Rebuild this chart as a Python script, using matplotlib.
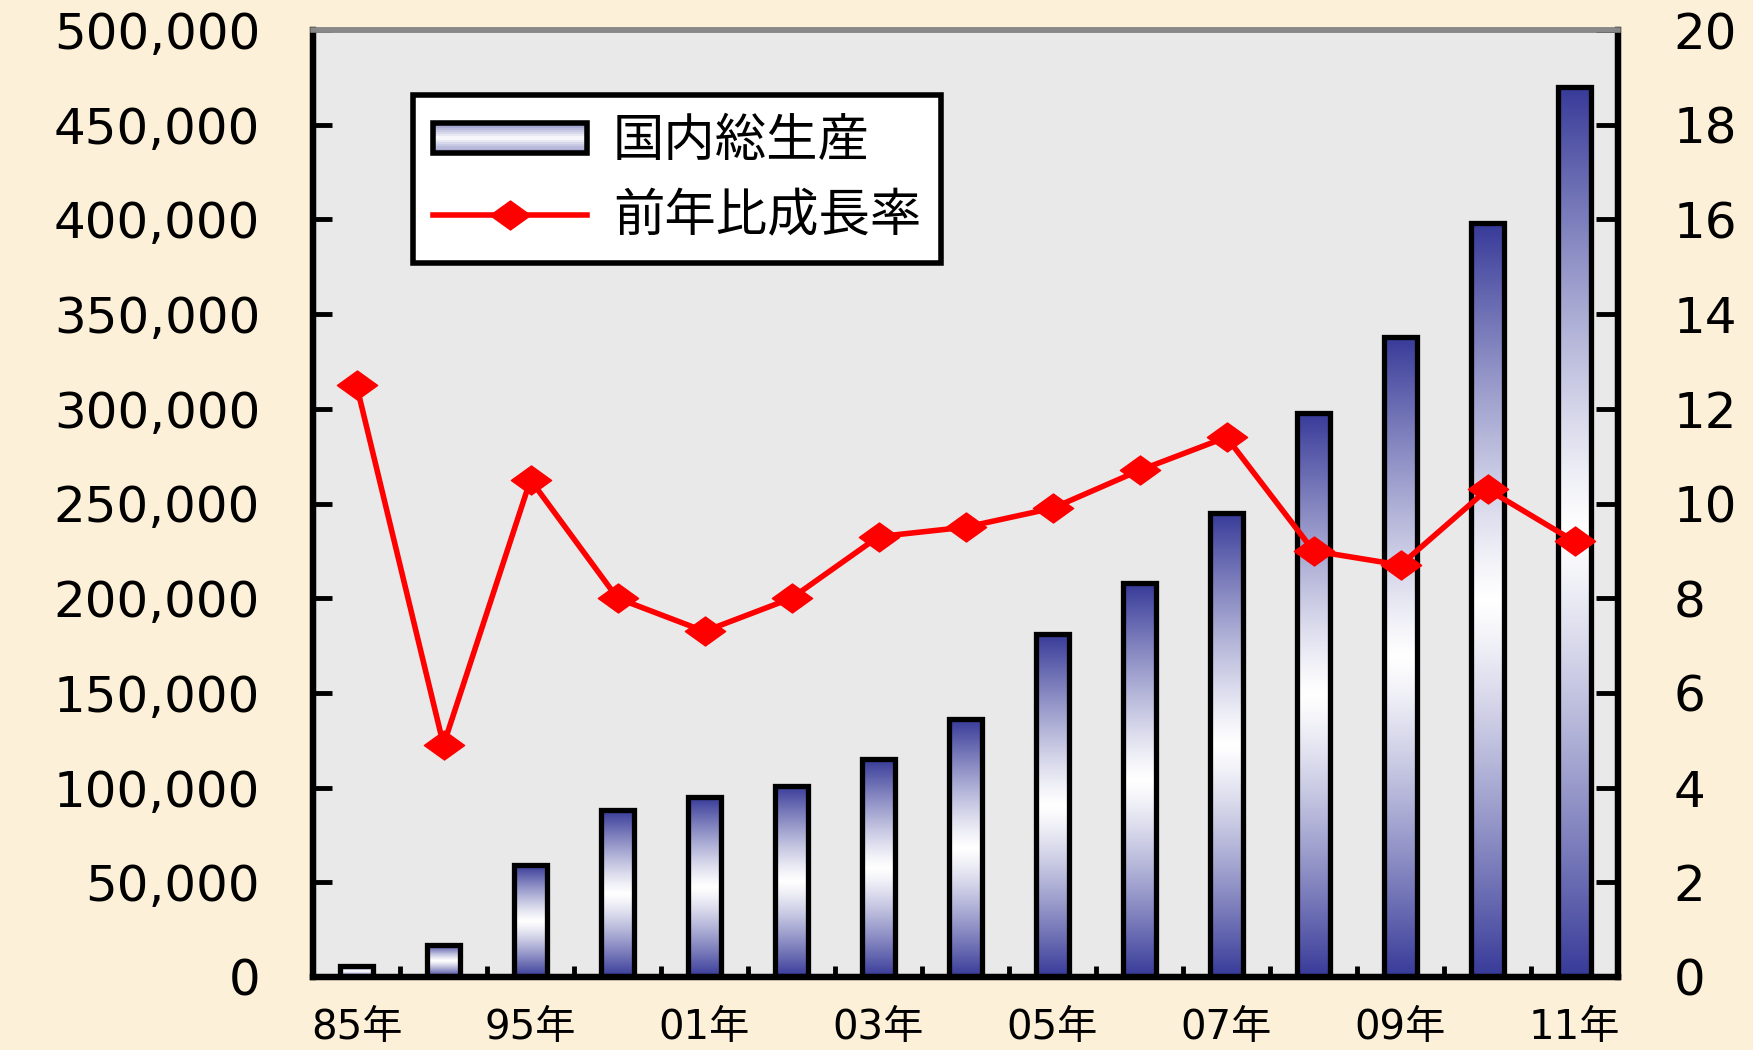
import matplotlib
matplotlib.use('Agg')
import matplotlib.pyplot as plt
import numpy as np
from matplotlib.patches import Rectangle
from matplotlib.lines import Line2D
from matplotlib.path import Path
from matplotlib.legend_handler import HandlerBase
from matplotlib.ticker import FuncFormatter, FixedLocator

plt.rcParams['font.family'] = ['DejaVu Sans', 'Noto Sans CJK JP']

# data
years = ['85年', '90年', '95年', '00年', '01年', '02年', '03年', '04年',
         '05年', '06年', '07年', '08年', '09年', '10年', '11年']
gdp = [6000, 17000, 59000, 88000, 95000, 101000, 115000, 136000,
       181000, 208000, 245000, 298000, 338000, 398000, 470000]
growth = [12.5, 4.9, 10.5, 8.0, 7.3, 8.0, 9.3, 9.5,
          9.9, 10.7, 11.4, 9.0, 8.7, 10.3, 9.2]
shown_labels = ['85年', '95年', '01年', '03年', '05年', '07年', '09年', '11年']

blue = np.array([0.22, 0.23, 0.60])
white = np.array([1.0, 1.0, 1.0])


def shade(t, k=1.0):
    return white * (1 - t * k) + blue * t * k


class GradientHandler(HandlerBase):
    def create_artists(self, legend, orig_handle, xdescent, ydescent,
                       width, height, fontsize, trans):
        arts = []
        n = 14
        for i in range(n):
            t = abs((i + 0.5) / n * 2 - 1)
            arts.append(Rectangle((-xdescent, -ydescent + i * height / n), width,
                                  height / n, facecolor=shade(t, 0.55),
                                  edgecolor='none', transform=trans))
        arts.append(Rectangle((-xdescent, -ydescent), width, height,
                              facecolor='none', edgecolor='black', lw=4,
                              transform=trans))
        return arts


fig = plt.figure(figsize=(17.53, 10.5), dpi=100)
fig.patch.set_facecolor('#FDF0D8')
ax = fig.add_axes([313 / 1753, 73 / 1050, 1305 / 1753, 947 / 1050])
ax.set_facecolor('#E9E9E9')

x = np.arange(len(years))
bars = ax.bar(x, gdp, width=0.39, facecolor='none', edgecolor='black',
              linewidth=3.8, zorder=3)

# vertical gradient inside each bar: blue - white - blue
prof = np.linspace(0, 1, 200)
tt = np.abs(prof * 2 - 1) ** 1.2
grad = np.array([shade(t) for t in tt]).reshape(-1, 1, 3)
for rect in bars:
    x0 = rect.get_x()
    im = ax.imshow(grad, extent=[x0, x0 + rect.get_width(), 0, rect.get_height()],
                   aspect='auto', origin='lower', zorder=2.5, interpolation='bilinear')
    im.set_clip_path(rect)

ax.set_xlim(-0.5, len(years) - 0.5)
ax.set_ylim(0, 500000)
ax.yaxis.set_major_locator(FixedLocator(np.arange(0, 500001, 50000)))
ax.yaxis.set_major_formatter(FuncFormatter(lambda v, p: f'{int(v):,}'))
ax.tick_params(axis='y', direction='in', length=14, width=3.5, pad=38,
               labelsize=36)

ax.set_xticks(x[::2])
ax.set_xticklabels(shown_labels)
ax.set_xticks(np.arange(-0.5, len(years)), minor=True)
ax.tick_params(axis='x', which='major', length=0, pad=22, labelsize=29)
ax.tick_params(axis='x', which='minor', direction='in', length=8, width=3.5)

ax2 = ax.twinx()
diamond = Path([(-1, 0), (0, 0.72), (1, 0), (0, -0.72), (-1, 0)],
               [Path.MOVETO, Path.LINETO, Path.LINETO, Path.LINETO, Path.CLOSEPOLY])
ax2.plot(x, growth, color='#FF0000', linewidth=4, marker=diamond,
         markersize=29, zorder=5)
ax2.set_ylim(0, 20)
ax2.yaxis.set_major_locator(FixedLocator(np.arange(0, 21, 2)))
ax2.tick_params(axis='y', direction='in', length=16, width=3.5, pad=40,
                labelsize=36)

for a in (ax, ax2):
    for s in ('left', 'right', 'bottom'):
        a.spines[s].set_color('black')
        a.spines[s].set_linewidth(4.5)
    a.spines['top'].set_color('#888888')
    a.spines['top'].set_linewidth(4)

h_bar = Rectangle((0, 0), 1, 1)
h_line = Line2D([], [], color='#FF0000', linewidth=4, marker=diamond,
                markersize=29)
leg = ax2.legend([h_bar, h_line], ['国内総生産', '前年比成長率'],
                 handler_map={Rectangle: GradientHandler()},
                 loc='upper left', bbox_to_anchor=(0.077, 0.931),
                 borderaxespad=0, handlelength=3.0, handleheight=0.5,
                 handletextpad=0.5, labelspacing=0.42, borderpad=0.38,
                 fancybox=False, framealpha=1, edgecolor='black',
                 prop={'family': ['Noto Sans CJK JP'], 'size': 37})
leg.get_frame().set_linewidth(4)
leg.set_zorder(10)

fig.savefig('out.png', dpi=100, facecolor=fig.get_facecolor())
